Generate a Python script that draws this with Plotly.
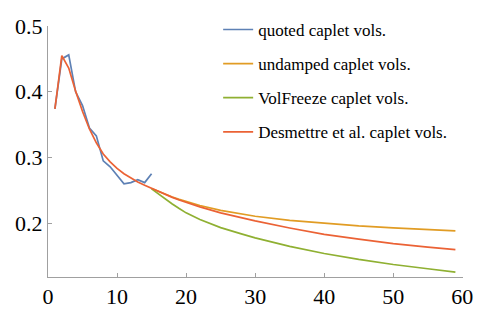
import plotly.graph_objects as go

# Maturities (years) and caplet volatilities
quoted_t = list(range(1, 16))
quoted_vol = [0.374, 0.450, 0.456, 0.400, 0.379, 0.345, 0.333, 0.295,
              0.286, 0.2735, 0.260, 0.262, 0.2665, 0.262, 0.2755]

ext_t = [15, 16, 17, 18, 19, 20, 22, 25, 28, 30, 35, 40, 45, 50, 55, 59]

undamped_vol = [0.2530, 0.2484, 0.2441, 0.2401, 0.2365, 0.2331, 0.2272, 0.2197,
                0.2140, 0.2108, 0.2045, 0.1998, 0.1962, 0.1933, 0.1905, 0.1886]

volfreeze_vol = [0.2525, 0.2445, 0.2370, 0.2295, 0.2225, 0.2160, 0.2060, 0.1935,
                 0.1840, 0.1780, 0.1650, 0.1542, 0.1452, 0.1375, 0.1310, 0.1258]

desm_t = list(range(1, 15)) + ext_t
desm_vol = [0.374, 0.455, 0.436, 0.401, 0.370, 0.3435, 0.3225, 0.3055,
            0.2935, 0.2835, 0.2755, 0.2688, 0.2630, 0.2578,
            0.2530, 0.2482, 0.2437, 0.2395, 0.2355, 0.2318, 0.2250, 0.2160,
            0.2085, 0.2038, 0.1930, 0.1834, 0.1760, 0.1693, 0.1640, 0.1601]

series = [
    ("quoted caplet vols.", quoted_t, quoted_vol, "#5E81B5"),
    ("undamped caplet vols.", ext_t, undamped_vol, "#E19C24"),
    ("VolFreeze caplet vols.", ext_t, volfreeze_vol, "#8FB032"),
    ("Desmettre et al. caplet vols.", desm_t, desm_vol, "#EB6235"),
]

x_range = [0, 60.1]
y_range = [0.1185, 0.5]
axis_col = "#a0a0a0"

fig = go.Figure()
for i, (name, t, v, col) in enumerate(series):
    fig.add_trace(go.Scatter(x=t, y=v, mode="lines", name=name,
                             legendgroup=f"g{i}",
                             line=dict(color=col, width=1.7)))

fig.update_layout(
    width=485, height=321,
    font=dict(family="Liberation Serif", size=22, color="black"),
    margin=dict(l=48, r=14, t=23, b=28),
    plot_bgcolor="white",
    legend=dict(x=0.41, y=1.056, xanchor="left", yanchor="top",
                traceorder="grouped", tracegroupgap=9,
                bgcolor="rgba(255,255,255,0)",
                font=dict(size=17)),
    xaxis=dict(range=x_range, dtick=10, tick0=0,
               showline=True, linecolor=axis_col, linewidth=1,
               ticks="inside", ticklen=4, tickcolor=axis_col),
    yaxis=dict(range=y_range, dtick=0.1, tick0=0,
               showline=True, linecolor=axis_col, linewidth=1,
               ticks="inside", ticklen=4, tickcolor=axis_col),
)

fig.write_html("out.html")
